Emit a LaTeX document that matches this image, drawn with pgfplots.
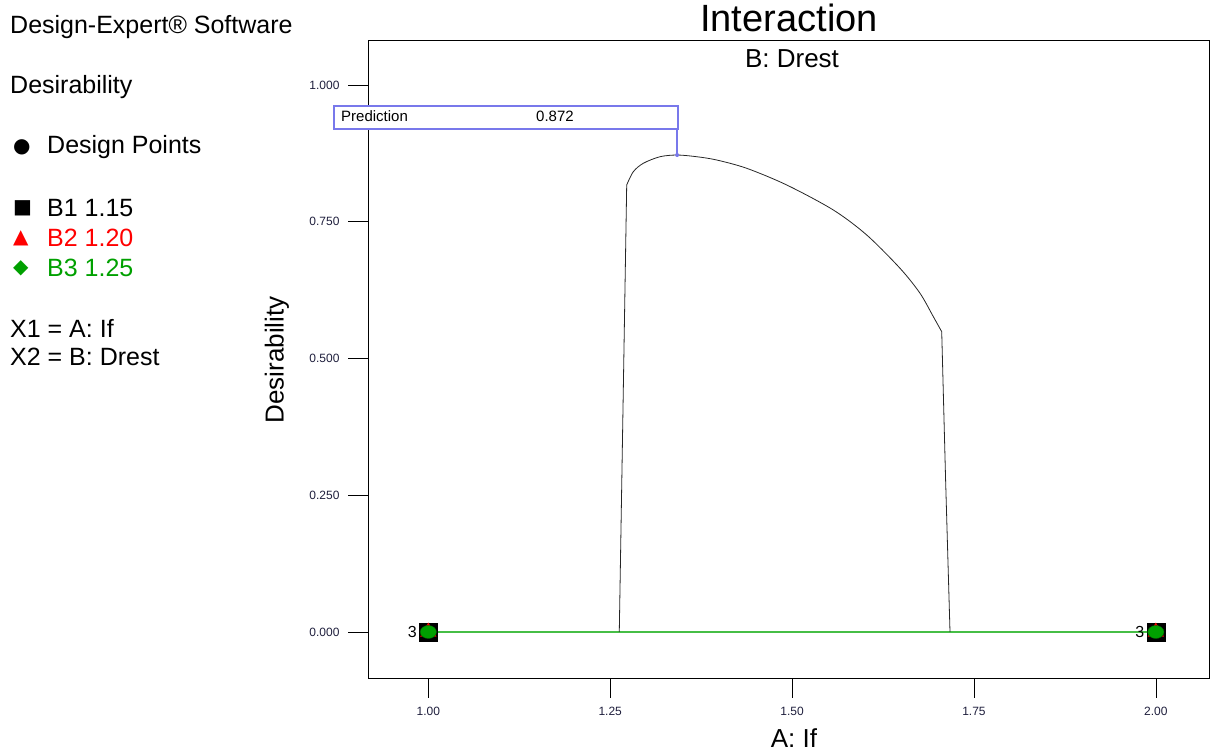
\documentclass[border=0pt]{standalone}
\usepackage{pgfplots}
\pgfplotsset{compat=1.18}
\usepackage{fontspec}
\setmainfont{Liberation Sans}
\newfontfamily\symfont{DejaVu Sans}
\definecolor{dgreen}{RGB}{0,160,0}
\definecolor{lgreen}{RGB}{70,190,70}
\definecolor{pblue}{RGB}{120,120,235}
\definecolor{tickc}{RGB}{30,30,60}
\begin{document}
\begin{tikzpicture}[x=1pt,y=1pt]
\useasboundingbox (0,0) rectangle (1211,751);
\begin{axis}[
  at={(368pt,73pt)}, anchor=south west,
  scale only axis, width=841pt, height=638pt,
  xmin=0.9171, xmax=2.0731, ymin=-0.0841, ymax=1.0823,
  xtick={1,1.25,1.5,1.75,2}, ytick={0,0.25,0.5,0.75,1},
  xtick pos=left, ytick pos=left, tick align=outside,
  major tick length=20pt,
  axis line style={line width=0.8pt},
  tick style={black, line width=0.6pt},
  /pgf/number format/assume math mode=true,
  xticklabel style={/pgf/number format/.cd, fixed, fixed zerofill, precision=2, /tikz/.cd, font=\fontsize{12}{14}\selectfont, text=tickc, yshift=-6pt},
  yticklabel style={/pgf/number format/.cd, fixed, fixed zerofill, precision=3, /tikz/.cd, font=\fontsize{12}{14}\selectfont, text=tickc, xshift=-5pt},
  clip=false,
]
\addplot[lgreen, line width=1.3pt] coordinates {(1,0) (2,0)};
\addplot[black!85, line width=0.8pt] coordinates {
(1.2625,0) (1.2675,0.40) (1.2727,0.8172)};
\addplot[black!85, line width=0.8pt, smooth, tension=0.5] coordinates {
(1.2727,0.8172) (1.2818,0.8415) (1.2955,0.8569)
(1.3185,0.8689) (1.342,0.872) (1.3689,0.8689) (1.3964,0.8629) (1.4377,0.8477)
(1.4927,0.8172) (1.5567,0.7715) (1.6026,0.7258) (1.6484,0.6649) (1.6759,0.6192)
(1.6942,0.5764) (1.7057,0.5490)};
\addplot[black!85, line width=0.8pt] coordinates {
(1.7057,0.5490) (1.7110,0.28) (1.7171,0)};
\addplot[only marks, mark=square*, mark size=9pt, black] coordinates {(1,0) (2,0)};
\addplot[only marks, mark=triangle*, mark size=9pt, red, mark options={fill=red}] coordinates {(1,0) (2,0)};
\addplot[only marks, mark=*, mark size=6.5pt, mark options={xscale=1.25, fill=dgreen, draw=green!40!black}] coordinates {(1,0) (2,0)};
\node[font=\fontsize{16}{18}\selectfont, anchor=east] at (axis cs:1,0) [xshift=-8pt] {3};
\node[font=\fontsize{16}{18}\selectfont, anchor=east] at (axis cs:2,0) [xshift=-8pt] {3};
\draw[pblue, line width=2pt] (axis cs:1.342,0.872) -- (axis cs:1.342,0.9208);
\fill[pblue] (axis cs:1.342,0.872) circle (2pt);
\end{axis}
% prediction box
\draw[pblue, line width=2pt, fill=white] (334,622) rectangle (678,645.3);
\node[anchor=west, font=\fontsize{15}{17}\selectfont, inner sep=0pt] at (341,634.5) {Prediction};
\node[anchor=west, font=\fontsize{15}{17}\selectfont, inner sep=0pt] at (536,634.5) {0.872};
% titles and labels
\node[font=\fontsize{38}{44}\selectfont] at (789,733) {Interaction};
\node[font=\fontsize{26}{30}\selectfont] at (792,692) {B: Drest};
\node[font=\fontsize{26}{30}\selectfont] at (794,13) {A: If};
\node[font=\fontsize{26}{30}\selectfont, rotate=90] at (277,391) {Desirability};
% left panel
\begin{scope}[every node/.style={anchor=west, inner sep=0pt, font=\fontsize{25}{29}\selectfont}]
\node at (10,724) {Design-Expert® Software};
\node at (10,664) {Desirability};
\node at (13,604) {\fontsize{20}{22}\selectfont\symfont ●};
\node at (47,604) {Design Points};
\node at (13,543) {\fontsize{20}{22}\selectfont\symfont ■};
\node at (47,543) {B1 1.15};
\node[text=red] at (13,513) {\fontsize{20}{22}\selectfont\symfont ▲};
\node[text=red] at (47,513) {B2 1.20};
\node[text=dgreen] at (13,483) {\fontsize{20}{22}\selectfont\symfont ◆};
\node[text=dgreen] at (47,483) {B3 1.25};
\node at (10,423) {X1 = A: If};
\node at (10,394) {X2 = B: Drest};
\end{scope}
\end{tikzpicture}
\end{document}
